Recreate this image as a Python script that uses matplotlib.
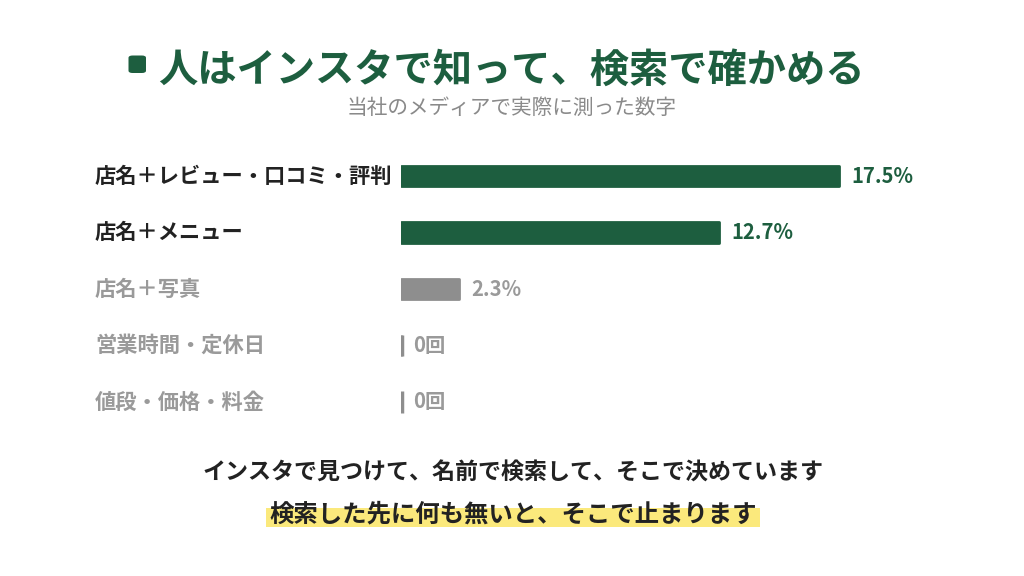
import matplotlib
matplotlib.use('Agg')
import matplotlib.pyplot as plt
from matplotlib.patches import FancyBboxPatch, Rectangle
from matplotlib.transforms import blended_transform_factory

plt.rcParams['font.family'] = ['Noto Sans CJK JP', 'DejaVu Sans']

title = '人はインスタで知って、検索で確かめる'
subtitle = '当社のメディアで実際に測った数字'
categories = ['店名＋レビュー・口コミ・評判', '店名＋メニュー', '店名＋写真',
              '営業時間・定休日', '値段・価格・料金']
values = [17.5, 12.7, 2.3, 0, 0]
value_labels = ['17.5%', '12.7%', '2.3%', '0回', '0回']
highlighted = [True, True, False, False, False]
note_line1 = 'インスタで見つけて、名前で検索して、そこで決めています'
note_line2 = '検索した先に何も無いと、そこで止まります'

GREEN = '#1d5e3f'
BAR_GRAY = '#8e8e8e'
TEXT_GRAY = '#9a9a9a'
DARK = '#222222'
YELLOW = '#fbe97c'

W, H = 1024, 576
fig = plt.figure(figsize=(10.24, 5.76), dpi=100)
fig.patch.set_facecolor('white')


def fx(px):
    return px / W


def fy(py):
    return 1 - py / H


# title with the little green square
fig.patches.append(FancyBboxPatch((fx(128.5), fy(73)), fx(17.5), 17.5 / H,
                                  boxstyle='round,pad=0,rounding_size=0.004',
                                  transform=fig.transFigure, facecolor=GREEN,
                                  edgecolor='none'))
fig.text(fx(158), fy(70), title, fontsize=28.3, fontweight='bold', color=GREEN,
         ha='left', va='center')
fig.text(fx(512), fy(108), subtitle, fontsize=14.9, color='#8a8a8a',
         ha='center', va='center')

# bar area
ax = fig.add_axes([fx(401), fy(430.25), fx(540), 282.5 / H])
ax.set_xlim(0, 540 / 25.03)
ax.set_ylim(len(categories) - 0.5, -0.5)
ax.axis('off')

ypos = list(range(len(categories)))
colors = [GREEN if h else BAR_GRAY for h in highlighted]
bars = ax.barh(ypos, values, height=0.37, color=colors, edgecolor=colors,
               linewidth=2, joinstyle='round')

label_tr = blended_transform_factory(fig.transFigure, ax.transData)
for i, (cat, val, lab, hl) in enumerate(zip(categories, values, value_labels, highlighted)):
    tcol = DARK if hl else TEXT_GRAY
    fig.text(fx(95), i, cat, transform=label_tr, fontsize=15.3, fontweight='bold',
             color=tcol, ha='left', va='center')
    if val == 0:
        ax.vlines(0.05, i - 0.19, i + 0.19, color=BAR_GRAY, linewidth=2.5)
    vcol = GREEN if hl else TEXT_GRAY
    ax.annotate(lab, (val, i), xytext=(9, 0), textcoords='offset points',
                fontsize=14.6, fontweight='bold', color=vcol, ha='left', va='center')

# bottom notes
fig.text(fx(513), fy(473), note_line1, fontsize=16.6, fontweight='bold', color=DARK,
         ha='center', va='center')
t2 = fig.text(fx(513), fy(514), note_line2, fontsize=17.6, fontweight='bold', color=DARK,
              ha='center', va='center', zorder=3)
renderer = fig.canvas.get_renderer()
bb = t2.get_window_extent(renderer)
fig.patches.append(Rectangle((fx(bb.x0 - 3), fy(527)), (bb.width + 6) / W, 19 / H,
                             transform=fig.transFigure, facecolor=YELLOW,
                             edgecolor='none', zorder=1))

fig.savefig('out.png', dpi=100, facecolor='white')
